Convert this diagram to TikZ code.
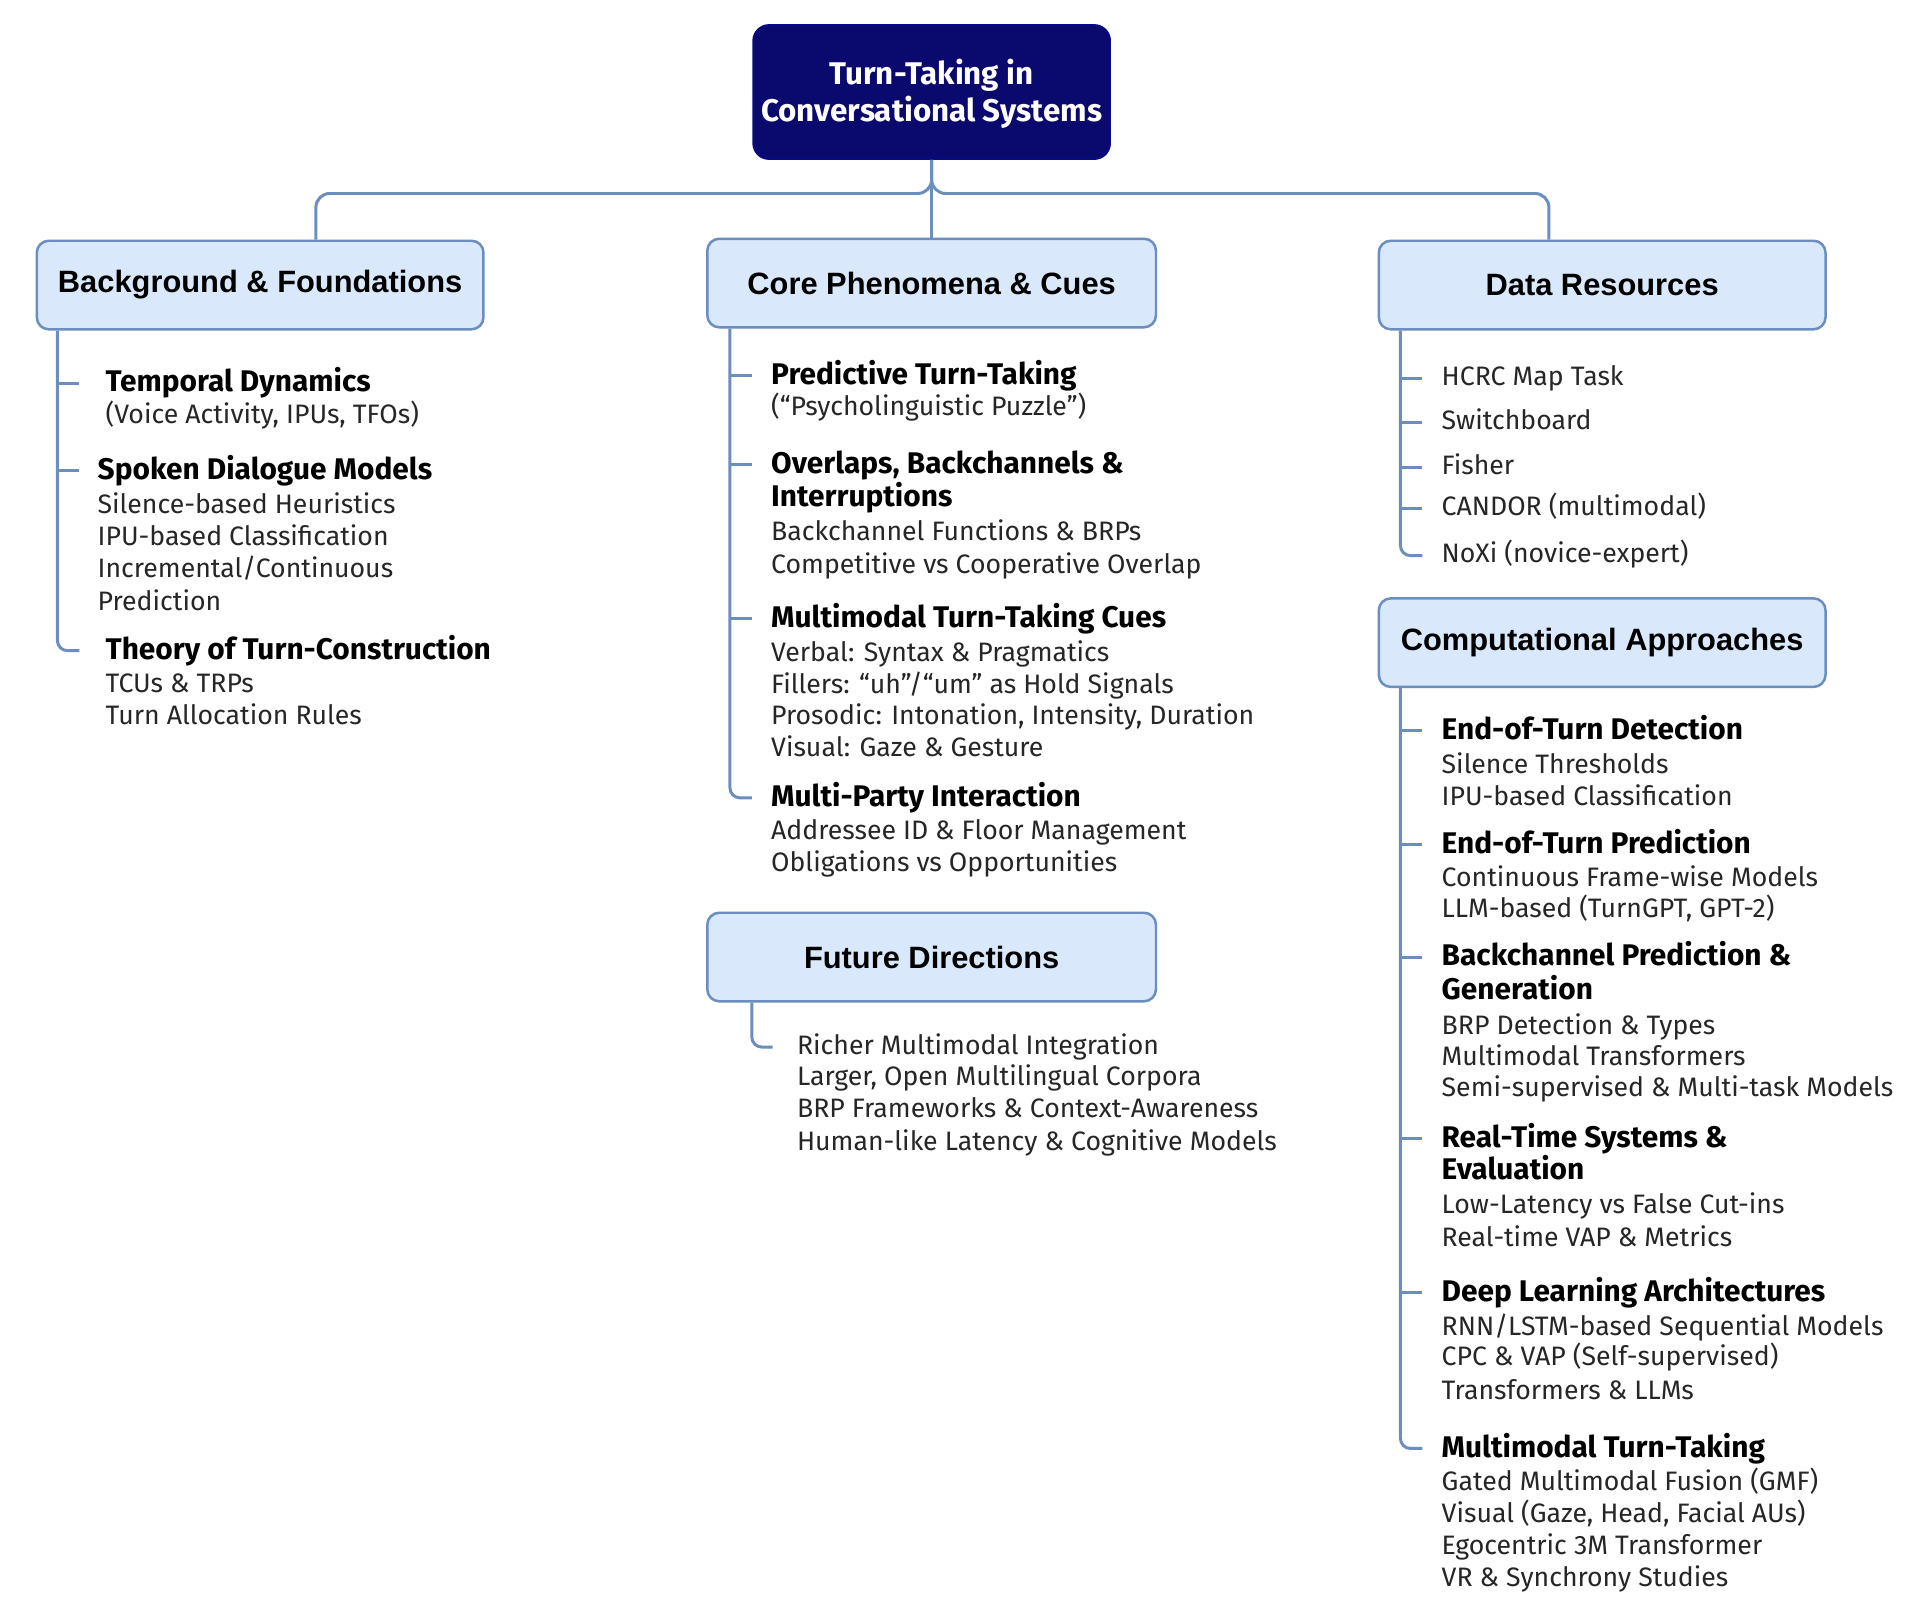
\documentclass[tikz,border=0pt]{standalone}
\usepackage{fontspec}
\setmainfont{Fira Sans}
\newfontfamily\hdfont{Liberation Sans}
\usetikzlibrary{calc}
\definecolor{navyc}{RGB}{10,10,110}
\definecolor{boxfill}{HTML}{DAE8FC}
\definecolor{boxline}{HTML}{6C8EBF}
\begin{document}
\begin{tikzpicture}[x=1pt,y=-1pt,
  hbox/.style={draw=boxline, line width=2.5pt, fill=boxfill, rounded corners=12pt,
    minimum width=449pt, minimum height=89pt, inner sep=0pt,
    font=\hdfont\bfseries\fontsize{31}{36}\selectfont},
  rootbox/.style={draw=navyc!80!blue, line width=1.5pt, fill=navyc, rounded corners=16pt,
    minimum width=359pt, minimum height=135pt, inner sep=0pt, text=white, align=center,
    font=\bfseries\fontsize{31.5}{38}\selectfont},
  conn/.style={draw=boxline, line width=3pt},
  itm/.style={anchor=base west, inner sep=0pt, text height=20pt, text depth=6pt, yshift=-2.5pt,
    font=\fontsize{26.8}{32}\selectfont, text=black!85},
  ttl/.style={anchor=base west, inner sep=0pt, text height=24pt, text depth=6pt, yshift=-1pt,
    font=\bfseries\fontsize{30}{34}\selectfont, text=black}
]
\useasboundingbox (0,0) rectangle (1930,1627);
\fill[white] (0,0) rectangle (1930,1627);

% root and main boxes
\node[rootbox] (root) at (936.5,92.5) {\rule{0pt}{29pt}Turn-Taking in\\Conversational Systems};
\node[hbox] (bg) at (261.5,286.5) {Background \& Foundations};
\node[hbox, minimum width=451pt] (core) at (936.5,284.5) {Core Phenomena \& Cues};
\node[hbox] (data) at (1610.5,286.5) {Data Resources};
\node[hbox] (comp) at (1610.5,646) {Computational Approaches};
\node[hbox, minimum width=451pt] (fut) at (936.5,962) {Future Directions};

% root connectors
\coordinate (split) at (936.5,194.5);
\coordinate (bgIn) at ([xshift=56pt]bg.north);
\coordinate (dataIn) at ([xshift=-53.5pt]data.north);
\draw[conn] (root.south) -- (core.north);
\draw[conn, rounded corners=14pt] (root.south) |- (bgIn |- split) -- (bgIn);
\draw[conn, rounded corners=14pt] (root.south) |- (dataIn |- split) -- (dataIn);

% ---------- Background & Foundations ----------
\node[ttl] (bg1) at (106,393) {Temporal Dynamics};
\node[itm] (bg1a) at (106,423) {(Voice Activity, IPUs, TFOs)};
\node[ttl] (bg2) at (98,481) {Spoken Dialogue Models};
\node[itm] (bg2a) at (98,514) {Silence-based Heuristics};
\node[itm] (bg2b) at (98,546) {IPU-based Classification};
\node[itm] (bg2c) at (98,578) {Incremental/Continuous};
\node[itm] (bg2d) at (98,611) {Prediction};
\node[ttl] (bg3) at (106,662) {Theory of Turn-Construction};
\node[itm] (bg3a) at (106,694) {TCUs \& TRPs};
\node[itm] (bg3b) at (106,726) {Turn Allocation Rules};
\coordinate (bgL) at ([xshift=22pt]bg.south west);
\draw[conn] (bg1.west -| bgL) -- ++(22,0);
\draw[conn] (bg2.west -| bgL) -- ++(22,0);
\draw[conn, rounded corners=10pt] (bgL) |- ($(bg3.west -| bgL)+(22,0)$);

% ---------- Core Phenomena & Cues ----------
\node[ttl] (c1) at (775,385) {Predictive Turn-Taking};
\node[itm] (c1a) at (775,415) {(“Psycholinguistic Puzzle”)};
\node[ttl] (c2) at (775,475) {Overlaps, Backchannels \&};
\node[ttl] (c2a) at (775,508) {Interruptions};
\node[itm] (c2b) at (775,541) {Backchannel Functions \& BRPs};
\node[itm] (c2c) at (775,574) {Competitive vs Cooperative Overlap};
\node[ttl] (c3) at (775,630) {Multimodal Turn-Taking Cues};
\node[itm] (c3a) at (775,662) {Verbal: Syntax \& Pragmatics};
\node[itm] (c3b) at (775,695) {Fillers: “uh”/“um” as Hold Signals};
\node[itm] (c3c) at (775,726) {Prosodic: Intonation, Intensity, Duration};
\node[itm] (c3d) at (775,758) {Visual: Gaze \& Gesture};
\node[ttl] (c4) at (775,810) {Multi-Party Interaction};
\node[itm] (c4a) at (775,841) {Addressee ID \& Floor Management};
\node[itm] (c4b) at (775,874) {Obligations vs Opportunities};
\coordinate (cL) at ([xshift=24pt]core.south west);
\draw[conn] (c1.west -| cL) -- ++(22,0);
\draw[conn] (c2.west -| cL) -- ++(22,0);
\draw[conn] (c3.west -| cL) -- ++(22,0);
\draw[conn, rounded corners=10pt] (cL) |- ($(c4.west -| cL)+(22,0)$);

% ---------- Data Resources ----------
\node[itm] (d1) at (1449,385) {HCRC Map Task};
\node[itm] (d2) at (1449,429) {Switchboard};
\node[itm] (d3) at (1449,474) {Fisher};
\node[itm] (d4) at (1449,516) {CANDOR (multimodal)};
\node[itm] (d5) at (1449,563) {NoXi (novice-expert)};
\coordinate (dL) at ([xshift=23pt]data.south west);
\draw[conn] (d1.west -| dL) -- ++(22,0);
\draw[conn] (d2.west -| dL) -- ++(22,0);
\draw[conn] (d3.west -| dL) -- ++(22,0);
\draw[conn] (d4.west -| dL) -- ++(22,0);
\draw[conn, rounded corners=10pt] (dL) |- ($(d5.west -| dL)+(22,0)$);

% ---------- Computational Approaches ----------
\node[ttl] (p1) at (1449,742) {End-of-Turn Detection};
\node[itm] (p1a) at (1449,775) {Silence Thresholds};
\node[itm] (p1b) at (1449,807) {IPU-based Classification};
\node[ttl] (p2) at (1449,857) {End-of-Turn Prediction};
\node[itm] (p2a) at (1449,889) {Continuous Frame-wise Models};
\node[itm] (p2b) at (1449,920) {LLM-based (TurnGPT, GPT-2)};
\node[ttl] (p3) at (1449,970) {Backchannel Prediction \&};
\node[ttl] (p3a) at (1449,1004) {Generation};
\node[itm] (p3b) at (1449,1037) {BRP Detection \& Types};
\node[itm] (p3c) at (1449,1069) {Multimodal Transformers};
\node[itm] (p3d) at (1449,1100) {Semi-supervised \& Multi-task Models};
\node[ttl] (p4) at (1449,1152) {Real-Time Systems \&};
\node[ttl] (p4a) at (1449,1185) {Evaluation};
\node[itm] (p4b) at (1449,1217) {Low-Latency vs False Cut-ins};
\node[itm] (p4c) at (1449,1250) {Real-time VAP \& Metrics};
\node[ttl] (p5) at (1449,1307) {Deep Learning Architectures};
\node[itm] (p5a) at (1449,1340) {RNN/LSTM-based Sequential Models};
\node[itm] (p5b) at (1449,1370) {CPC \& VAP (Self-supervised)};
\node[itm] (p5c) at (1449,1404) {Transformers \& LLMs};
\node[ttl] (p6) at (1449,1464) {Multimodal Turn-Taking};
\node[itm] (p6a) at (1449,1496) {Gated Multimodal Fusion (GMF)};
\node[itm] (p6b) at (1449,1528) {Visual (Gaze, Head, Facial AUs)};
\node[itm] (p6c) at (1449,1560) {Egocentric 3M Transformer};
\node[itm] (p6d) at (1449,1592) {VR \& Synchrony Studies};
\coordinate (pL) at ([xshift=23pt]comp.south west);
\draw[conn] (p1.west -| pL) -- ++(22,0);
\draw[conn] (p2.west -| pL) -- ++(22,0);
\draw[conn] (p3.west -| pL) -- ++(22,0);
\draw[conn] (p4.west -| pL) -- ++(22,0);
\draw[conn] (p5.west -| pL) -- ++(22,0);
\draw[conn, rounded corners=10pt] (pL) |- ($(p6.west -| pL)+(22,0)$);

% ---------- Future Directions ----------
\node[itm] (f1) at (801,1057) {Richer Multimodal Integration};
\node[itm] (f2) at (801,1089) {Larger, Open Multilingual Corpora};
\node[itm] (f3) at (801,1121) {BRP Frameworks \& Context-Awareness};
\node[itm] (f4) at (801,1154) {Human-like Latency \& Cognitive Models};
\coordinate (fL) at ([xshift=46pt]fut.south west);
\draw[conn, rounded corners=10pt] (fL) |- ($(f1.west -| fL)+(21,0)$);
\end{tikzpicture}
\end{document}
